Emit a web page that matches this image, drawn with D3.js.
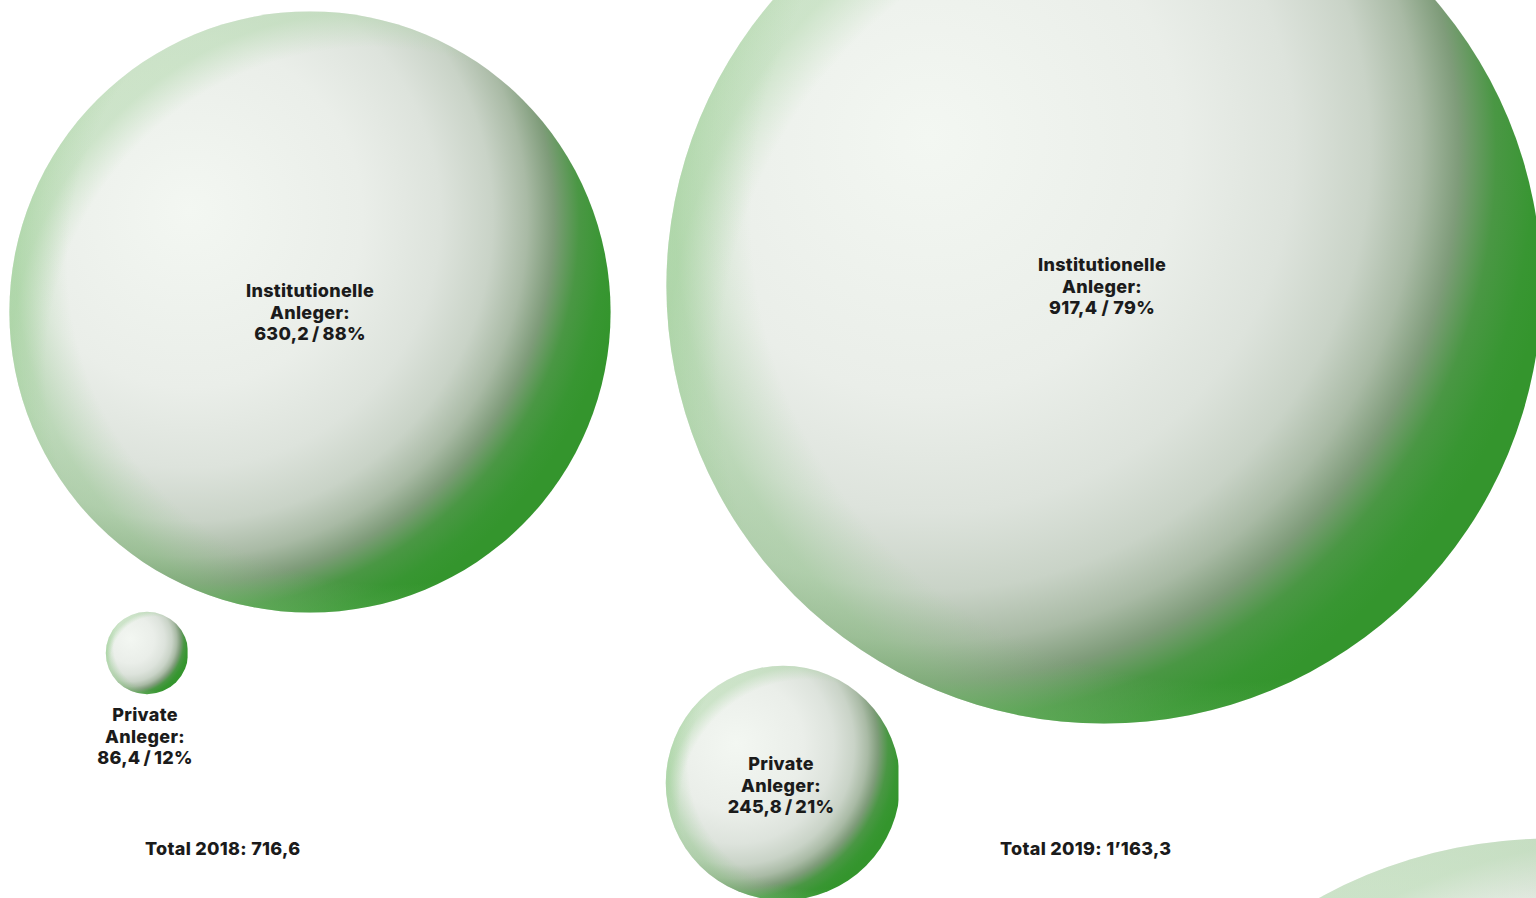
<!DOCTYPE html>
<html>
<head>
<meta charset="utf-8">
<script src="https://cdn.jsdelivr.net/npm/d3@7/dist/d3.min.js"></script>
<style>
  html, body { margin: 0; padding: 0; background: #ffffff; overflow: hidden; }
  svg { display: block; }
  text { font-family: Inter, "Liberation Sans", sans-serif; font-weight: 800; fill: #1b1b1b; letter-spacing: 0.3px; }
</style>
</head>
<body>
<svg id="chart" width="1536" height="898"></svg>
<script>
// Investor volumes (CHF bn) per year and investor group
const groups = ["Institutionelle Anleger", "Private Anleger"];
const values2018 = [630.2, 86.4];
const shares2018 = [88, 12];
const values2019 = [917.4, 245.8];
const shares2019 = [79, 21];
const totals = [716.6, 1163.3];
const years = [2018, 2019];
// the next panel's bubble, only its rim is in view
const nextValue = [1005];

const fmt = d3.formatLocale({ decimal: ",", thousands: "\u2019", grouping: [3], currency: ["", ""] }).format(",.1f");

const svg = d3.select("#chart");
const defs = svg.append("defs");

// sphere shading: pale highlight upper left, deep green crescent lower right
const grad = defs.append("radialGradient")
  .attr("id", "sphere")
  .attr("cx", 0.30).attr("cy", 0.35).attr("r", 0.72)
  .attr("fx", 0.30).attr("fy", 0.33);
[[0, "#f3f7f2"], [0.4, "#eaeee9"], [0.58, "#dde3dc"], [0.7, "#c9d3c7"],
 [0.78, "#a9baa5"], [0.84, "#7f9c7a"], [0.9, "#4a9744"], [0.96, "#389632"], [1, "#34952d"]]
  .forEach(([o, c]) => grad.append("stop").attr("offset", o).attr("stop-color", c));

// thin pale green rim on the lit side
const rimTop = defs.append("radialGradient")
  .attr("id", "rimTop").attr("cx", 0.6).attr("cy", 0.6).attr("r", 0.6);
[[0, "#a6d49f", 0], [0.9, "#a6d49f", 0], [1, "#a6d49f", 0.45]]
  .forEach(([o, c, a]) => rimTop.append("stop").attr("offset", o).attr("stop-color", c).attr("stop-opacity", a));

// softer green towards the lower left
const rimLow = defs.append("radialGradient")
  .attr("id", "rimLow").attr("cx", 0.63).attr("cy", 0.42).attr("r", 0.62);
[[0, "#8fc988", 0], [0.86, "#8fc988", 0], [1, "#86c67e", 0.38]]
  .forEach(([o, c, a]) => rimLow.append("stop").attr("offset", o).attr("stop-color", c).attr("stop-opacity", a));

// radius proportional to volume
const rScale = d3.scaleLinear().domain([0, 1000]).range([0, 477]);

// layout of the two yearly panels
const layout = [
  { inst: [310, 312], priv: [147, 653], privLabel: "below", total: [145, 848] },
  { inst: [1104, 286], priv: [783, 783], privLabel: "inside", total: [1000, 848] }
];

const panels = years.map((y, i) => ({
  year: y,
  values: i === 0 ? values2018 : values2019,
  shares: i === 0 ? shares2018 : shares2019,
  total: totals[i],
  pos: layout[i]
}));

function sphere(g, cx, cy, r, id, cut) {
  const holder = g.append("g");
  if (cut) {
    defs.append("clipPath").attr("id", id)
      .append("rect").attr("x", cx - r - 2).attr("y", cy - r - 2)
      .attr("width", r * (1 + cut) + 2).attr("height", 2 * r + 4);
    holder.attr("clip-path", `url(#${id})`);
  }
  ["sphere", "rimTop", "rimLow"].forEach(f =>
    holder.append("circle").attr("cx", cx).attr("cy", cy).attr("r", r).attr("fill", `url(#${f})`));
}

function label(g, x, y, lines) {
  const t = g.append("text").attr("text-anchor", "middle").attr("font-size", 18);
  lines.forEach((s, k) => t.append("tspan").attr("x", x).attr("y", y + k * 21.5).text(s));
}

const nums = v => fmt(v);

panels.forEach((p, i) => {
  const g = svg.append("g");
  const [ix, iy] = p.pos.inst;
  const [px, py] = p.pos.priv;
  const rI = rScale(p.values[0]);
  const rP = rScale(p.values[1]);
  sphere(g, ix, iy, rI, null, 0);
  sphere(g, px, py, rP, "cutP" + i, 0.985);

  const sep = i === 1 ? " / " : "\u2009/\u2009";
  label(g, ix - 2 * i, iy - 15, ["Institutionelle", "Anleger:", nums(p.values[0]) + sep + p.shares[0] + "%"]);
  const privLines = ["Private", "Anleger:", nums(p.values[1]) + "\u2009/\u2009" + p.shares[1] + "%"];
  if (p.pos.privLabel === "below") label(g, px - 2, py + 68, privLines);
  else label(g, px - 2, py - 13, privLines);

  g.append("text").attr("x", p.pos.total[0]).attr("y", p.pos.total[1] + 6.5)
    .attr("font-size", 18)
    .text(`Total ${p.year}: ${nums(p.total)}`);
});

// rim of the following panel's bubble
sphere(svg.append("g"), 1550, 1318, rScale(nextValue[0]), null, 0);
</script>
</body>
</html>
